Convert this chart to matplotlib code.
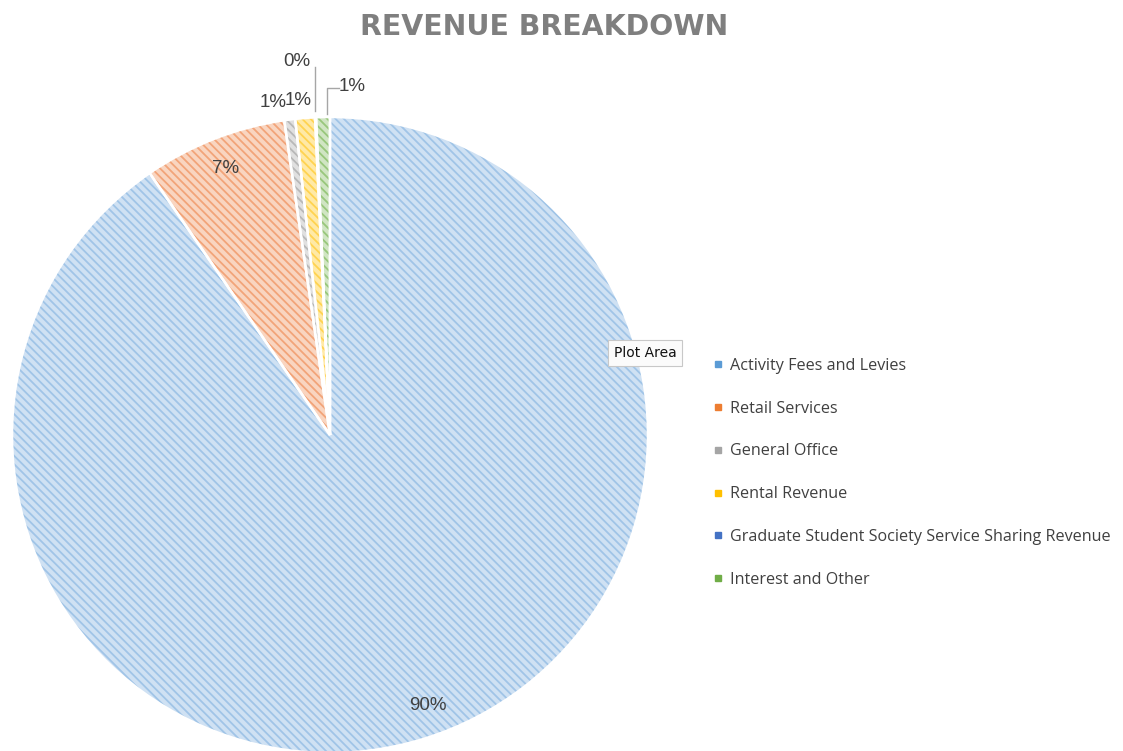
import matplotlib.pyplot as plt
from matplotlib.lines import Line2D

# data (clockwise from 12 o'clock)
categories = ['Activity Fees and Levies', 'Retail Services', 'General Office',
              'Rental Revenue', 'Graduate Student Society Service Sharing Revenue',
              'Interest and Other']
shares = [90.4, 7.3, 0.55, 1.0, 0.05, 0.7]

solid = ['#5b9bd5', '#ed7d31', '#a5a5a5', '#ffc000', '#4472c4', '#70ad47']
face = ['#cfe1f3', '#f9d5c0', '#e0e0e0', '#ffe9a6', '#c9d5ee', '#d0e5c3']
stripe = ['#a0c4e7', '#f2a479', '#b8b8b8', '#ffd350', '#7f9dd6', '#98c77b']

plt.rcParams['hatch.linewidth'] = 1.3

fig = plt.figure(figsize=(11.23, 7.51), dpi=100)
ax = fig.add_axes([12 / 1123, -2 / 751, 636 / 1123, 636 / 751])

wedges, _, pcts = ax.pie(shares, startangle=90, counterclock=False,
                         autopct='%.0f%%', pctdistance=0.9,
                         textprops=dict(family='Liberation Sans', fontsize=13.5,
                                        color='#404040'))
for w, fc, hc in zip(wedges, face, stripe):
    w.set_facecolor(fc)
    w.set_edgecolor(hc)
    w.set_hatch('\\\\\\\\')
    w.set_linewidth(0)

# white slice borders
ax.pie(shares, startangle=90, counterclock=False,
       wedgeprops=dict(fill=False, edgecolor='white', linewidth=1.8))

# 90% label sits a little further round in the original
pcts[0].set_position((0.308, -0.852))

# small slices get their labels outside the pie
outside = {2: (-0.180, 1.047), 3: (-0.100, 1.053), 4: (-0.104, 1.173), 5: (0.069, 1.097)}
for i, (x, y) in outside.items():
    pcts[i].set_position((x, y))
    pcts[i].set_ha('center')
    pcts[i].set_va('center')

# leader lines for the 0% and the green 1%
ax.plot([-0.047, -0.047], [1.157, 1.02], color='#a6a6a6', lw=1, clip_on=False)
ax.plot([0.027, -0.01, -0.01], [1.091, 1.091, 1.01], color='#a6a6a6', lw=1, clip_on=False)

ax.set_xlim(-1, 1)
ax.set_ylim(-1, 1)
ax.set_aspect('equal')
ax.axis('off')

fig.text(544 / 1123, 1 - 27 / 751, 'REVENUE BREAKDOWN', ha='center', va='center',
         fontsize=20.4, fontweight='bold', family='DejaVu Sans', color='#7f7f7f')

handles = [Line2D([], [], marker='s', linestyle='', markersize=5, color=c) for c in solid]
fig.legend(handles, categories, loc='upper left',
           bbox_to_anchor=(713 / 1123, 1 - 358 / 751), frameon=False,
           prop=dict(family='Open Sans', size=11.6), labelcolor='#404040',
           labelspacing=1.66, handlelength=0.6, handletextpad=0.45,
           borderpad=0, borderaxespad=0)

fig.text(645 / 1123, 1 - 353 / 751, 'Plot Area', ha='center', va='center',
         fontsize=10, family='DejaVu Sans', color='#111111',
         bbox=dict(boxstyle='square,pad=0.4', fc='#fbfbfb', ec='#c8c8c8', lw=0.8))

fig.savefig('out.png', dpi=100)
